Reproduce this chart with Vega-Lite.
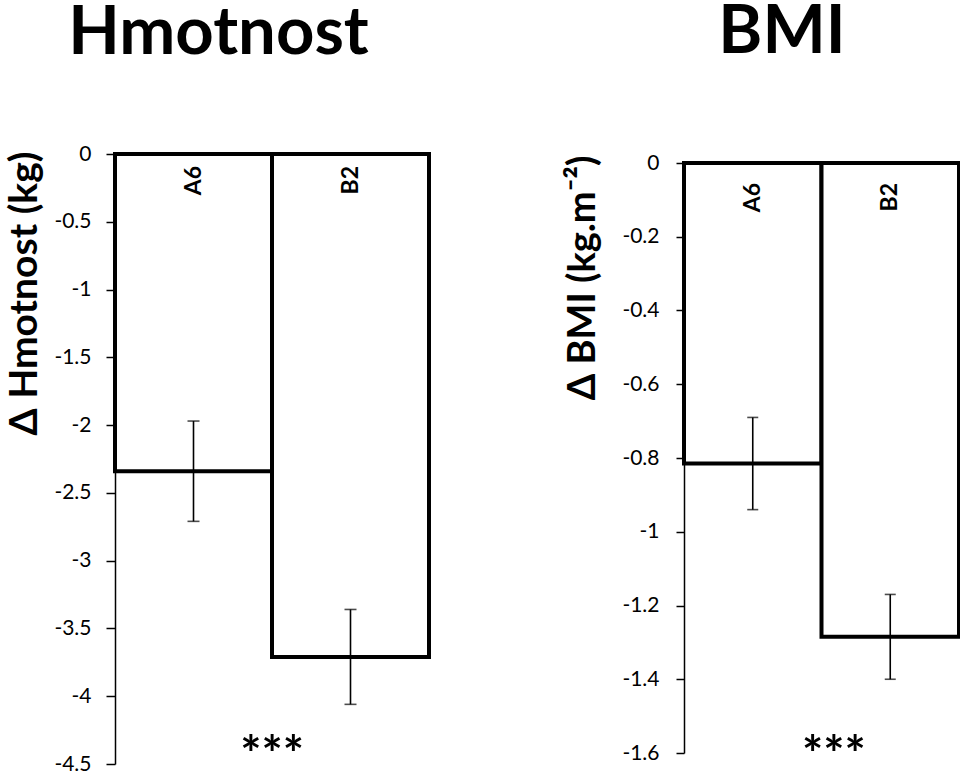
{
  "$schema": "https://vega.github.io/schema/vega-lite/v6.json",
  "background": "white",
  "padding": {"top": -1, "left": 5, "right": 5, "bottom": 5},
  "config": {
    "font": "Lato",
    "view": {"stroke": null},
    "axis": {
      "domainColor": "black", "domainWidth": 1.5,
      "tickColor": "black", "tickWidth": 1.5, "tickSize": 9,
      "labelColor": "black", "labelFont": "Lato", "labelFontSize": 21,
      "labelFlush": false, "labelOverlap": false, "labelBound": false,
      "titleColor": "black", "titleFont": "Lato", "titleFontSize": 38, "titleFontWeight": "bold",
      "titleAnchor": "end",
      "grid": false
    },
    "title": {"font": "Lato", "fontSize": 67, "fontWeight": "bold", "color": "black", "anchor": "middle", "frame": "bounds"}
  },
  "datasets": {
    "weight": [
      {"group": "A6", "value": -2.34, "lo": -2.71, "hi": -1.97},
      {"group": "B2", "value": -3.71, "lo": -4.06, "hi": -3.36}
    ],
    "weightSig": [{"group": "B2", "label": "***", "value": -4.45}],
    "bmi": [
      {"group": "A6", "value": -0.815, "lo": -0.94, "hi": -0.69},
      {"group": "B2", "value": -1.285, "lo": -1.40, "hi": -1.17}
    ],
    "bmiSig": [{"group": "B2", "label": "***", "value": -1.61}]
  },
  "spacing": 133,
  "hconcat": [
    {
      "width": 314, "height": 610,
      "title": {"text": "Hmotnost", "offset": 75},
      "data": {"name": "weight"},
      "encoding": {
        "x": {"field": "group", "type": "nominal", "scale": {"paddingInner": 0, "paddingOuter": 0}, "axis": null}
      },
      "layer": [
        {
          "mark": {"type": "bar", "fill": "white", "stroke": "black", "strokeWidth": 4},
          "encoding": {
            "y": {"field": "value", "type": "quantitative",
              "scale": {"domain": [-4.5, 0], "nice": false, "zero": false},
              "axis": {"title": "Δ Hmotnost (kg)", "values": [0, -0.5, -1, -1.5, -2, -2.5, -3, -3.5, -4, -4.5],
                "labelExpr": "'' + datum.value", "labelPadding": 15, "titlePadding": 9, "titleY": -3, "titleFontSize": 39}}
          }
        },
        {
          "mark": {"type": "rule", "color": "black", "strokeWidth": 1.6},
          "encoding": {"y": {"field": "lo", "type": "quantitative"}, "y2": {"field": "hi"}}
        },
        {
          "mark": {"type": "tick", "color": "black", "size": 12, "thickness": 1.6},
          "encoding": {"y": {"field": "lo", "type": "quantitative"}}
        },
        {
          "mark": {"type": "tick", "color": "black", "size": 12, "thickness": 1.6},
          "encoding": {"y": {"field": "hi", "type": "quantitative"}}
        },
        {
          "mark": {"type": "text", "angle": 270, "align": "right", "baseline": "middle", "dx": -12, "fontSize": 23, "fontWeight": "bold", "color": "black"},
          "encoding": {"y": {"datum": 0, "type": "quantitative"}, "text": {"field": "group"}}
        },
        {
          "data": {"name": "weightSig"},
          "mark": {"type": "text", "fontSize": 50, "fontWeight": "bold", "color": "black", "baseline": "middle"},
          "encoding": {
            "x": {"field": "group", "type": "nominal", "bandPosition": 0},
            "y": {"field": "value", "type": "quantitative"},
            "text": {"field": "label"}
          }
        }
      ]
    },
    {
      "width": 275, "height": 599,
      "title": {"text": "BMI", "offset": 85, "dx": 19},
      "data": {"name": "bmi"},
      "encoding": {
        "x": {"field": "group", "type": "nominal", "scale": {"paddingInner": 0, "paddingOuter": 0}, "axis": null}
      },
      "layer": [
        {
          "mark": {"type": "bar", "fill": "white", "stroke": "black", "strokeWidth": 4},
          "encoding": {
            "y": {"field": "value", "type": "quantitative",
              "scale": {"domain": [-1.6, 0], "nice": false, "zero": false, "range": [599, 9]},
              "axis": {"title": "Δ BMI (kg.m⁻²)", "values": [0, -0.2, -0.4, -0.6, -0.8, -1, -1.2, -1.4, -1.6],
                "labelExpr": "'' + datum.value", "labelPadding": 17, "titlePadding": 19, "tickSize": 8, "titleY": 1}}
          }
        },
        {
          "mark": {"type": "rule", "color": "black", "strokeWidth": 1.6},
          "encoding": {"y": {"field": "lo", "type": "quantitative"}, "y2": {"field": "hi"}}
        },
        {
          "mark": {"type": "tick", "color": "black", "size": 11, "thickness": 1.6},
          "encoding": {"y": {"field": "lo", "type": "quantitative"}}
        },
        {
          "mark": {"type": "tick", "color": "black", "size": 11, "thickness": 1.6},
          "encoding": {"y": {"field": "hi", "type": "quantitative"}}
        },
        {
          "mark": {"type": "text", "angle": 270, "align": "right", "baseline": "middle", "dx": -20, "fontSize": 23, "fontWeight": "bold", "color": "black"},
          "encoding": {"y": {"datum": 0, "type": "quantitative"}, "text": {"field": "group"}}
        },
        {
          "data": {"name": "bmiSig"},
          "mark": {"type": "text", "fontSize": 50, "fontWeight": "bold", "color": "black", "baseline": "middle"},
          "encoding": {
            "x": {"field": "group", "type": "nominal", "bandPosition": 0.09},
            "y": {"field": "value", "type": "quantitative"},
            "text": {"field": "label"}
          }
        }
      ]
    }
  ]
}
